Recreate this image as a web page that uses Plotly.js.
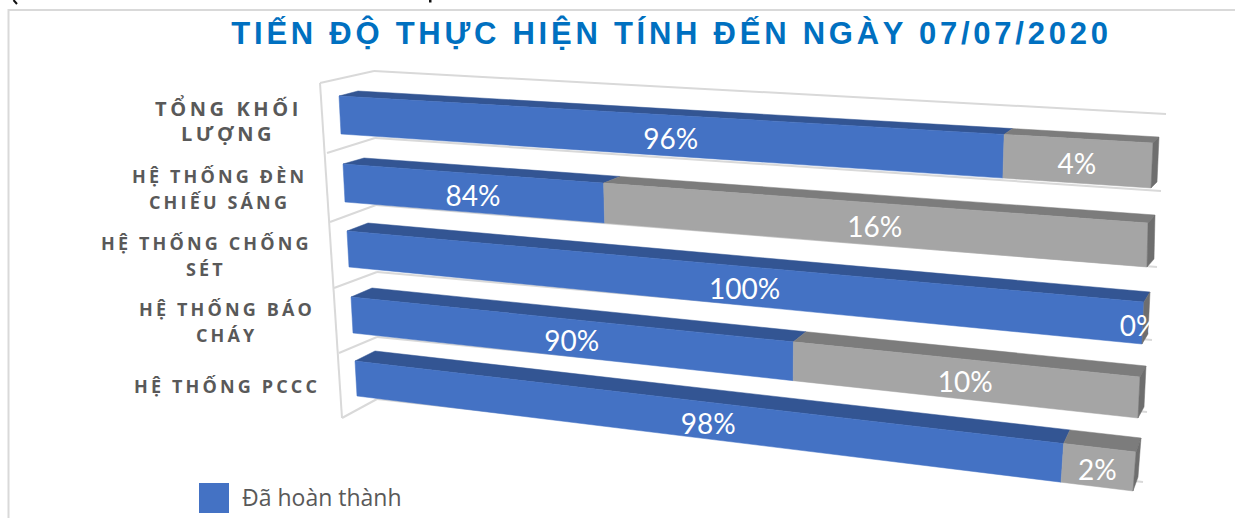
<!DOCTYPE html>
<html><head><meta charset="utf-8">
<script src="https://cdn.plot.ly/plotly-3.0.1.min.js"></script>
<style>
html,body{margin:0;padding:0;background:#fff;overflow:hidden}
#chart{width:1235px;height:518px}
.gtitle{letter-spacing:3.75px}
.annotation-text{letter-spacing:3.15px}
.annotation[data-index="0"] .annotation-text,.annotation[data-index="1"] .annotation-text{letter-spacing:3.6px}
</style></head><body><div id="chart"></div>
<script>
// ---- data ----
const categories = ["TỔNG KHỐI<br>LƯỢNG","HỆ THỐNG ĐÈN<br>CHIẾU SÁNG","HỆ THỐNG CHỐNG<br>SÉT","HỆ THỐNG BÁO<br>CHÁY","HỆ THỐNG PCCC"];
const done = [96,84,100,90,98];
const remaining = [4,16,0,10,2];
const seriesNames = ["Đã hoàn thành","Chưa hoàn thành"];

// ---- perspective geometry of the 3-D view (per row, in page pixels) ----
const axisMin = 75, axisMax = 100, perspective = 1.175;
const frontTL = [[339,96],[343,164],[347,231],[351,297],[355,361]];
const frontBL = [[341,134],[345,202],[349,267],[353,333],[357,396]];
const frontTR = [[1153,143],[1148,223],[1144,302],[1140,377],[1136,452]];
const frontBR = [[1151,188],[1147,267],[1142,344],[1138,418],[1133,491]];
const backL  = [[19,-5],[21,-6],[21,-8],[21,-9],[20,-10]];
const backR  = [[6,-6],[7,-8],[6,-10],[6,-11],[5,-14]];

function mix(a,b,t){return [a[0]+(b[0]-a[0])*t,a[1]+(b[1]-a[1])*t];}
function scale(v){const t=(v-axisMin)/(axisMax-axisMin);return t<=0?0:t/(t+perspective*(1-t));}
function pt(row,v,bottom,back){
  const t=scale(v);
  let L=bottom?frontBL[row]:frontTL[row],R=bottom?frontBR[row]:frontTR[row];
  if(back){L=[L[0]+backL[row][0],L[1]+backL[row][1]];R=[R[0]+backR[row][0],R[1]+backR[row][1]];}
  return mix(L,R,t);
}
function poly(points,color,name){
  const xs=points.map(p=>p[0]).concat(points[0][0]),ys=points.map(p=>p[1]).concat(points[0][1]);
  return {type:'scatter',mode:'lines',x:xs,y:ys,fill:'toself',fillcolor:color,line:{width:0.5,color:color},hoverinfo:'skip',showlegend:false,name:name||''};
}
function line(a,b,col){return {type:'scatter',mode:'lines',x:[a[0],b[0]],y:[a[1],b[1]],line:{color:col||'#D9D9D9',width:2},hoverinfo:'skip',showlegend:false};}

const BLUE='#4472C4',BLUE_TOP='#335593',GREY='#A5A5A5',GREY_TOP='#7C7C7C',GREY_SIDE='#6E6E6E';
const traces=[];

// walls and gridlines
const wallFront=[[320,83],[327,153],[330,222],[334,288],[339,353],[342,418]];
const wallBack=[[374,71],[375,138],[376,205],[377,272],[377,337],[377,399]];
const wallEnd=[[1166,114],[1161,191],[1157,267],[1152,340],[1147,412],[1143,482]];
traces.push(line(wallFront[0],wallFront[5]));
wallFront.forEach((p,i)=>{
  traces.push(line(p,wallBack[i]));
  traces.push(line(wallBack[i],wallEnd[i]));
});

// bars
const textX=[],textY=[],textS=[];
categories.forEach((c,r)=>{
  const a=pt(r,axisMin,0,0),b=pt(r,axisMin,1,0),at=pt(r,axisMin,0,1);
  const d0=pt(r,done[r],0,0),d1=pt(r,done[r],1,0),dt=pt(r,done[r],0,1);
  const e0=pt(r,100,0,0),e1=pt(r,100,1,0),et=pt(r,100,0,1),eb=pt(r,100,1,1);
  traces.push(poly([a,at,dt,d0],BLUE_TOP));
  traces.push(poly([a,d0,d1,b],BLUE,seriesNames[0]));
  if(remaining[r]>0){
    traces.push(poly([d0,dt,et,e0],GREY_TOP));
    traces.push(poly([d0,e0,e1,d1],GREY,seriesNames[1]));
  }
  traces.push(poly([e0,et,eb,e1],GREY_SIDE));
  const cx1=(a[0]+b[0]+d0[0]+d1[0])/4,cy1=(a[1]+b[1]+d0[1]+d1[1])/4;
  textX.push(cx1-1);textY.push(cy1+6);textS.push(done[r]+'%');
  const cx2=(d0[0]+d1[0]+e0[0]+e1[0])/4,cy2=(d0[1]+d1[1]+e0[1]+e1[1])/4;
  textX.push(remaining[r]>0?cx2-1:cx2-4);textY.push(cy2+6);textS.push(remaining[r]+'%');
});
traces.push({type:'scatter',mode:'text',x:textX,y:textY,text:textS,textposition:'middle center',
  textfont:{family:'Lato, Carlito, sans-serif',size:28,color:'#FFFFFF'},hoverinfo:'skip',showlegend:false});

// legend entry
traces.push({type:'scatter',mode:'text',x:[242],y:[500],text:[seriesNames[0]],textposition:'middle right',
  textfont:{family:'"Open Sans", sans-serif',size:23,color:'#595959'},hoverinfo:'skip',showlegend:false});

// category labels, one annotation per line so the line pitch can follow the picture
const catX=[228,219.5,206,227,226.5],catY=[121,189,256,322,386];
const annotations=[];
categories.forEach((c,i)=>{
  const parts=c.split('<br>');
  parts.forEach((s,k)=>annotations.push({xref:'x',yref:'y',x:catX[i],y:catY[i]+(k-(parts.length-1)/2)*25.5,text:s,showarrow:false,
    xanchor:'center',yanchor:'middle',font:{family:'"Open Sans", sans-serif',size:i===0?20:18,weight:700,color:'#595959'}}));
});

const layout={
  width:1235,height:518,margin:{l:0,r:0,t:0,b:0},paper_bgcolor:'#fff',plot_bgcolor:'#fff',showlegend:false,
  xaxis:{range:[0,1235],visible:false,fixedrange:true},
  yaxis:{range:[518,0],visible:false,fixedrange:true},
  title:{text:'TIẾN ĐỘ THỰC HIỆN TÍNH ĐẾN NGÀY 07/07/2020',x:671.5/1235,xanchor:'center',y:1-33/518,yanchor:'middle',
    font:{family:'"Liberation Sans", Arial, sans-serif',size:31,weight:700,color:'#0070C0'}},
  annotations:annotations,
  shapes:[
    {type:'rect',xref:'x',yref:'y',x0:8.5,y0:10,x1:1300,y1:600,line:{color:'#D9D9D9',width:2},fillcolor:'rgba(0,0,0,0)',layer:'below'},
    {type:'rect',xref:'x',yref:'y',x0:199,y0:483,x1:229,y1:513,line:{width:0},fillcolor:BLUE},
    // small dark fragments at the very top edge of the reference crop
    {type:'line',xref:'x',yref:'y',x0:13.5,y0:0,x1:17,y1:4,line:{color:'#111',width:2}},
    {type:'rect',xref:'x',yref:'y',x0:429,y0:0,x1:431.5,y1:2.5,line:{width:0},fillcolor:'#111'}
  ]
};
Plotly.newPlot('chart',traces,layout,{displayModeBar:false,staticPlot:true});
</script></body></html>
